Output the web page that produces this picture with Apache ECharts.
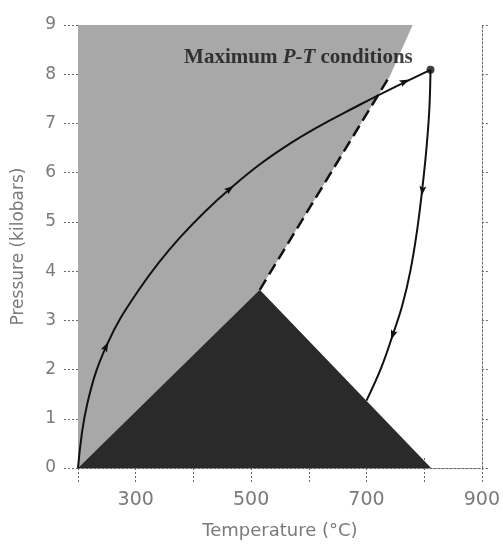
<!DOCTYPE html>
<html>
<head>
<meta charset="UTF-8">
<title>Maximum P-T conditions</title>
<script src="https://cdn.jsdelivr.net/npm/echarts@6/dist/echarts.min.js"></script>
<style>
  html, body { margin: 0; padding: 0; background: #fff; }
  #chart { width: 503px; height: 545px; }
</style>
</head>
<body>
<div id="chart"></div>
<script>
// temperature (°C) / pressure (kbar)
var tempTicks = [200, 300, 400, 500, 600, 700, 800, 900];
var pressTicks = [0, 1, 2, 3, 4, 5, 6, 7, 8, 9];

var grayZone = [[200, 0], [515, 3.62], [740, 7.95], [780, 9], [200, 9]];
var darkZone = [[200, 0], [515, 3.62], [812, 0]];
var boundary = [[515, 3.62], [738, 7.92]];

var prograde = [[200, 0], [216, 1.3], [250, 2.5], [305, 3.61], [375, 4.66],
    [465, 5.69], [570, 6.61], [690, 7.39], [811, 8.09]];
var retrograde = [[811, 8.09], [809, 7.3], [804, 6.5], [797, 5.7], [788, 4.85], [776, 4.0],
    [762, 3.3], [746, 2.72], [726, 2.05], [700, 1.37]];
var peak = [[811, 8.09]];
// arrow position + a point further along the path
var arrows = [[248, 2.45, 275, 3.06], [462, 5.66, 524, 6.22], [765, 7.84, 811, 8.09],
    [797, 5.65, 788, 4.85], [746, 2.72, 726, 2.05]];
var noteLabel = [[582, 8.33]];

var axisCol = '#666';
var labelCol = '#7a7a7a';

function polygonSeries(points, fill) {
    return {
        type: 'custom',
        coordinateSystem: 'cartesian2d',
        silent: true,
        z: 1,
        data: [points[0]],
        renderItem: function (params, api) {
            return {
                type: 'polygon',
                shape: { points: points.map(function (p) { return api.coord(p); }) },
                style: { fill: fill }
            };
        }
    };
}

var chart = echarts.init(document.getElementById('chart'));

var option = {
    animation: false,
    backgroundColor: '#fff',
    grid: { left: 78, right: 14, top: 25, bottom: 77 },
    xAxis: [{
        type: 'value', min: tempTicks[0], max: tempTicks[tempTicks.length - 1], interval: 100,
        name: 'Temperature (°C)', nameLocation: 'middle', nameGap: 54,
        nameTextStyle: { color: labelCol, fontSize: 18, fontFamily: 'DejaVu Sans' },
        axisLine: { lineStyle: { color: axisCol, type: [2, 2] } },
        axisTick: { length: 14, lineStyle: { color: axisCol, type: [2, 2] } },
        axisLabel: {
            color: labelCol, fontSize: 19, fontFamily: 'DejaVu Sans', margin: 23,
            formatter: function (v) { return (v / 100) % 2 === 1 ? String(v) : ''; }
        },
        splitLine: { show: false }
    }, {
        type: 'value', position: 'top', min: 200, max: 900, interval: 100,
        axisLine: { lineStyle: { color: axisCol, type: [2, 2] } },
        axisTick: { length: 12, lineStyle: { color: axisCol, type: [2, 2] } },
        axisLabel: { show: false }, splitLine: { show: false }
    }],
    yAxis: [{
        type: 'value', min: pressTicks[0], max: pressTicks[pressTicks.length - 1], interval: 1,
        name: 'Pressure (kilobars)', nameLocation: 'middle', nameGap: 51,
        nameTextStyle: { color: labelCol, fontSize: 17, fontFamily: 'DejaVu Sans' },
        axisLine: { lineStyle: { color: axisCol, type: [2, 2] } },
        axisTick: { length: 14, lineStyle: { color: axisCol, type: [2, 2] } },
        axisLabel: { color: labelCol, fontSize: 17, fontFamily: 'DejaVu Sans', margin: 22 },
        splitLine: { show: false }
    }, {
        type: 'value', position: 'right', min: 0, max: 9, interval: 1,
        axisLine: { lineStyle: { color: axisCol, type: [2, 2] } },
        axisTick: { length: 8, lineStyle: { color: axisCol, type: [2, 2] } },
        axisLabel: { show: false }, splitLine: { show: false }
    }],
    series: [
        polygonSeries(grayZone, '#a8a8a8'),
        polygonSeries(darkZone, '#2a2a2a'),
        {
            type: 'line', data: boundary, showSymbol: false, silent: true, z: 3,
            lineStyle: { color: '#111', width: 2.5, type: [12, 6] }
        },
        {
            type: 'line', data: prograde, showSymbol: false, smooth: 0.4, silent: true, z: 4,
            lineStyle: { color: '#111', width: 2 }
        },
        {
            type: 'line', data: retrograde, showSymbol: false, smooth: 0.4, silent: true, z: 4,
            lineStyle: { color: '#111', width: 2 }
        },
        {
            type: 'scatter', data: peak, symbol: 'circle', symbolSize: 8, silent: true, z: 5,
            itemStyle: { color: '#111' }
        },
        {
            type: 'custom', coordinateSystem: 'cartesian2d', silent: true, z: 5,
            data: arrows,
            renderItem: function (params, api) {
                var p = api.coord([api.value(0), api.value(1)]);
                var q = api.coord([api.value(2), api.value(3)]);
                var dx = q[0] - p[0], dy = q[1] - p[1];
                var len = Math.sqrt(dx * dx + dy * dy) || 1;
                var ux = dx / len, uy = dy / len, nx = -uy, ny = ux;
                return {
                    type: 'polygon',
                    shape: {
                        points: [
                            [p[0] + ux * 6, p[1] + uy * 6],
                            [p[0] - ux * 4 + nx * 3.5, p[1] - uy * 4 + ny * 3.5],
                            [p[0] - ux * 2, p[1] - uy * 2],
                            [p[0] - ux * 4 - nx * 3.5, p[1] - uy * 4 - ny * 3.5]
                        ]
                    },
                    style: { fill: '#111' }
                };
            }
        },
        {
            type: 'scatter', data: noteLabel, symbolSize: 0, silent: true, z: 6,
            label: {
                show: true, position: 'inside',
                formatter: 'Maximum {i|P-T} conditions',
                color: '#111', fontSize: 21, fontWeight: 'bold', fontFamily: 'Liberation Serif',
                rich: {
                    i: { fontStyle: 'italic', fontSize: 21, fontWeight: 'bold', fontFamily: 'Liberation Serif', color: '#111' }
                }
            }
        }
    ]
};

chart.setOption(option);
</script>
</body>
</html>
